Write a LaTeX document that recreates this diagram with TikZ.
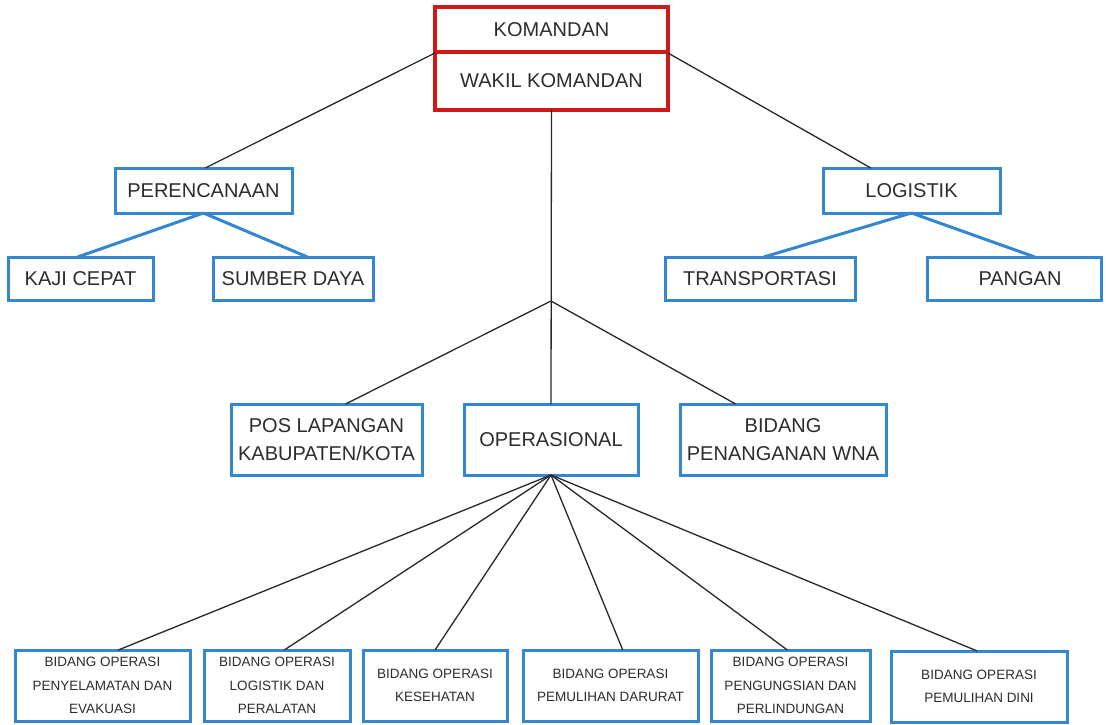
\documentclass[tikz,border=0pt]{standalone}
\usepackage{fontspec}
\setmainfont{Liberation Sans}
\usetikzlibrary{calc}
\definecolor{bblue}{RGB}{52,134,208}
\definecolor{rred}{RGB}{208,24,24}
\definecolor{txt}{RGB}{45,45,45}
\definecolor{ln}{RGB}{40,40,40}
\begin{document}
\begin{tikzpicture}[x=1pt,y=-1pt,
  bluebox/.style={draw=bblue,line width=3pt,fill=white,inner sep=0pt,outer sep=0pt,
    text=txt,align=center,font=\fontsize{20}{28}\selectfont},
  smallbox/.style={bluebox,font=\fontsize{13.5}{23.5}\selectfont},
  redbox/.style={draw=rred,line width=3.6pt,fill=white,inner sep=0pt,outer sep=0pt,
    text=txt,align=center,font=\fontsize{20}{28}\selectfont},
  conn/.style={draw=ln,line width=1.3pt},
  bconn/.style={draw=bblue,line width=3pt}]
\useasboundingbox (0,0) rectangle (1106,725);
\fill[white] (0,0) rectangle (1106,725);

% connectors first (drawn under boxes)
\coordinate (j) at (551,301);
\coordinate (kaL) at (435,53);
\coordinate (kaR) at (668,53);

% top red boxes
\node[redbox,minimum width=233pt,minimum height=45pt] (kom) at (551.5,29.5) {KOMANDAN};
\node[redbox,minimum width=233pt,minimum height=58pt] (wakil) at (551.5,81) {WAKIL KOMANDAN};

% second level
\node[bluebox,minimum width=177pt,minimum height=45pt] (per) at (203.5,190.5) {PERENCANAAN};
\node[bluebox,minimum width=177pt,minimum height=45pt] (log) at (911.5,190.5) {LOGISTIK};
\node[bluebox,minimum width=145pt,minimum height=43pt] (kaji) at (80.5,278.5) {KAJI CEPAT};
\node[bluebox,minimum width=160pt,minimum height=43pt] (sumber) at (293,278.5) {SUMBER DAYA};
\node[bluebox,minimum width=190pt,minimum height=43pt] (trans) at (760,278.5) {TRANSPORTASI};
\node[bluebox,minimum width=174pt,minimum height=43pt] (pangan) at (1014,278.5) {\hspace*{12pt}PANGAN};

% third level
\node[bluebox,minimum width=191pt,minimum height=71pt] (pos) at (326.5,439.5) {POS LAPANGAN\\KABUPATEN/KOTA};
\node[bluebox,minimum width=174pt,minimum height=71pt] (ops) at (551,439.5) {OPERASIONAL};
\node[bluebox,minimum width=206pt,minimum height=71pt] (wna) at (783,439.5) {BIDANG\\PENANGANAN WNA};

% bottom level
\node[smallbox,minimum width=175pt,minimum height=71pt] (b1) at (102.5,685.5) {BIDANG OPERASI\\PENYELAMATAN DAN\\EVAKUASI};
\node[smallbox,minimum width=146pt,minimum height=71pt] (b2) at (277,685.5) {BIDANG OPERASI\\LOGISTIK DAN\\PERALATAN};
\node[smallbox,minimum width=144pt,minimum height=71pt] (b3) at (435,685.5) {BIDANG OPERASI\\KESEHATAN};
\node[smallbox,minimum width=175pt,minimum height=71pt] (b4) at (610.5,685.5) {BIDANG OPERASI\\PEMULIHAN DARURAT};
\node[smallbox,minimum width=159pt,minimum height=71pt] (b5) at (790.5,685.5) {BIDANG OPERASI\\PENGUNGSIAN DAN\\PERLINDUNGAN};
\node[smallbox,minimum width=176pt,minimum height=71pt] (b6) at (979,686.5) {BIDANG OPERASI\\PEMULIHAN DINI};

% connectors
\begin{scope}[on background layer/.style={}]
\draw[conn] (kaL) -- ($(per.north west)!0.51!(per.north east)$);
\draw[conn] (kaR) -- ($(log.north west)!0.27!(log.north east)$);
\draw[conn] (wakil.south) -- (ops.north);
\draw[conn] (j) -- ($(pos.north west)!0.6!(pos.north east)$);
\draw[conn] (j) -- ($(wna.north west)!0.27!(wna.north east)$);
\draw[bconn] (per.south) -- ($(kaji.north west)!0.48!(kaji.north east)$);
\draw[bconn] (per.south) -- ($(sumber.north west)!0.59!(sumber.north east)$);
\draw[bconn] (log.south) -- ($(trans.north west)!0.52!(trans.north east)$);
\draw[bconn] (log.south) -- ($(pangan.north west)!0.62!(pangan.north east)$);
\draw[conn] (ops.south) -- ($(b1.north west)!0.59!(b1.north east)$);
\draw[conn] (ops.south) -- ($(b2.north west)!0.55!(b2.north east)$);
\draw[conn] (ops.south) -- ($(b3.north west)!0.5!(b3.north east)$);
\draw[conn] (ops.south) -- ($(b4.north west)!0.57!(b4.north east)$);
\draw[conn] (ops.south) -- ($(b5.north west)!0.48!(b5.north east)$);
\draw[conn] (ops.south) -- ($(b6.north west)!0.49!(b6.north east)$);
\end{scope}
\end{tikzpicture}
\end{document}
